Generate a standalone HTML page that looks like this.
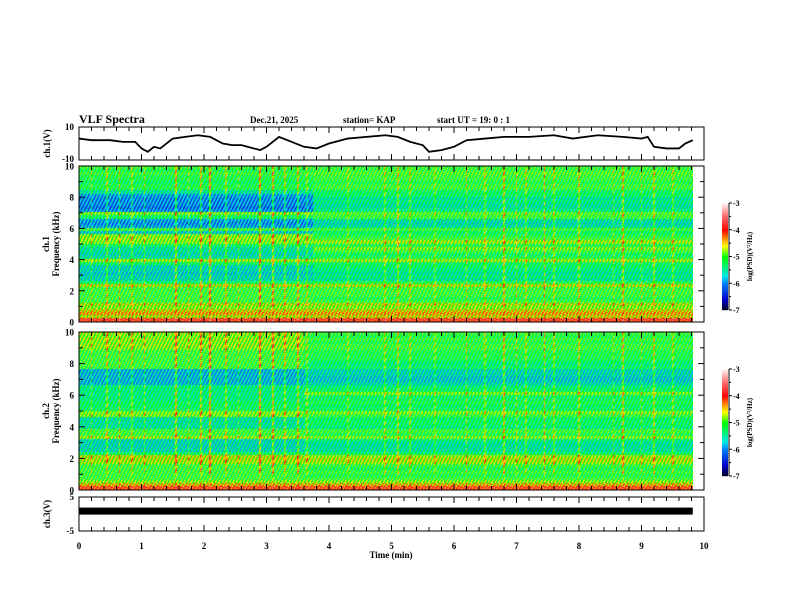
<!DOCTYPE html>
<html><head><meta charset="utf-8"><style>
html,body{margin:0;padding:0;background:#fff;}
#wrap{position:relative;width:792px;height:612px;overflow:hidden;}
canvas{position:absolute;}
svg{position:absolute;left:0;top:0;}
text{font-family:"Liberation Serif",serif;font-weight:bold;fill:#000;}
</style></head><body>
<div id="wrap">
<canvas id="spec1" width="614" height="156" style="left:79px;top:166px"></canvas>
<canvas id="spec2" width="614" height="158" style="left:79px;top:332px"></canvas>
<svg id="svg" width="792" height="612"></svg>
</div>
<script>
// ---- data ----
const ch1Times=[0,0.2,0.5,0.7,0.9,1.0,1.1,1.2,1.3,1.5,1.7,1.9,2.1,2.3,2.45,2.6,2.8,2.9,3.0,3.2,3.4,3.6,3.8,4.0,4.3,4.6,4.9,5.1,5.3,5.5,5.6,5.8,6.0,6.2,6.5,6.8,7.2,7.6,7.9,8.3,8.7,9.0,9.1,9.2,9.4,9.6,9.7,9.82];
const ch1Volts=[3,2,2,1,1,-3,-5,-2,-3,3,4,5,4,0,-1,-1,-3,-4,-2,4,1,-2,-3,0,3,4,5,4,1,-1,-5,-4,-2,2,3,4,4,5,3,5,4,3,4,-2,-3,-3,0,2];
const ch1Before=[-3.9,-4.7,-4.4,-4.6,-4.9,-4.7,-5.1,-5.1,-5.1,-5.1,-5.1,-4.7,-5.3,-5.6,-5.6,-5.7,-5.6,-5.6,-5.3,-4.8,-5.5,-5.6,-5.5,-5.5,-5.3,-4.9,-4.8,-4.9,-5.7,-5.1,-5.9,-6.0,-5.9,-5.3,-4.9,-6.0,-6.1,-6.0,-6.0,-6.0,-5.9,-5.5,-5.2,-5.2,-5.3,-5.2,-5.2,-5.1,-5.2,-5.1];
const ch1After=[-3.9,-4.6,-4.4,-4.6,-4.9,-4.7,-5.1,-5.2,-5.1,-5.1,-5.1,-4.7,-5.2,-5.5,-5.4,-5.5,-5.4,-5.3,-5.3,-4.8,-5.2,-5.3,-5.1,-4.9,-5.2,-4.8,-5.1,-5.2,-5.3,-5.1,-5.5,-5.6,-5.5,-5.1,-5.0,-5.4,-5.5,-5.5,-5.4,-5.5,-5.3,-5.3,-5.1,-5.1,-5.2,-5.1,-5.1,-5.0,-5.1,-5.1];
const ch1Break=3.75;
const ch2Before=[-4.0,-4.5,-4.9,-5.1,-5.1,-5.1,-5.1,-5.1,-4.8,-4.7,-4.7,-5.3,-5.6,-5.6,-5.6,-5.6,-4.8,-5.1,-5.1,-5.5,-5.5,-5.5,-5.5,-4.9,-4.9,-5.3,-5.3,-5.3,-5.4,-5.4,-5.4,-5.4,-5.4,-5.8,-5.8,-5.8,-5.8,-5.8,-5.1,-5.1,-5.1,-5.1,-5.1,-5.1,-4.9,-4.8,-4.9,-4.8,-4.9,-4.8];
const ch2After=[-4.0,-4.5,-4.9,-5.1,-5.2,-5.1,-5.2,-5.1,-4.8,-4.7,-4.8,-5.3,-5.5,-5.5,-5.5,-5.4,-4.9,-5.2,-5.1,-5.4,-5.3,-5.3,-5.3,-5.1,-4.9,-5.3,-5.3,-5.2,-5.3,-5.3,-4.9,-5.3,-5.4,-5.6,-5.7,-5.7,-5.6,-5.6,-5.3,-5.4,-5.3,-5.2,-5.2,-5.2,-5.1,-5.1,-5.2,-5.1,-5.2,-5.1];
const ch2Break=3.6;
const burstTimes=[0.2,0.45,0.65,0.85,1.05,1.55,1.75,1.95,2.1,2.35,2.55,2.9,3.1,3.3,3.5,3.65,4.3,4.9,5.1,5.3,5.7,6.2,6.5,6.8,7.0,7.15,7.45,7.6,8.0,8.55,8.7,9.0,9.2,9.5];
const burstStrength=[0.4,0.5,0.6,0.4,0.5,0.7,0.4,0.6,0.8,0.5,0.4,0.8,0.7,0.5,0.6,0.4,0.3,0.4,0.5,0.4,0.3,0.5,0.4,0.6,0.5,0.4,0.7,0.4,0.5,0.4,0.6,0.4,0.5,0.4];
const ch3Level=1.0;
const timeTicks=[0,1,2,3,4,5,6,7,8,9,10];
const freqTicks=[0,2,4,6,8,10];
const cbarTicks=[-3,-4,-5,-6,-7];
const dataEnd=9.82;

// ---- axes ----
const X0=79,X1=704,TMAX=10;
const xs=t=>X0+(X1-X0)*t/TMAX;
const NS='http://www.w3.org/2000/svg';
const svg=document.getElementById('svg');
function el(tag,attrs,parent){const e=document.createElementNS(NS,tag);for(const k in attrs)e.setAttribute(k,attrs[k]);(parent||svg).appendChild(e);return e;}
function txt(x,y,s,size,anchor,rot){const e=el('text',{x:x,y:y,'font-size':size,'text-anchor':anchor||'middle'});if(rot)e.setAttribute('transform','rotate(-90 '+x+' '+y+')');e.textContent=s;return e;}

const stops=[[0,[0,0,32]],[0.1,[0,0,200]],[0.25,[0,128,255]],[0.32,[0,230,230]],[0.5,[0,255,0]],[0.6,[255,255,0]],[0.68,[255,128,0]],[0.75,[255,0,0]],[0.9,[255,128,128]],[1,[255,245,245]]];
function cmapArr(v){let t=(v+7)/4;t=Math.max(0,Math.min(1,t));for(let i=1;i<stops.length;i++){if(t<=stops[i][0]){const a=stops[i-1],b=stops[i];const f=(t-a[0])/(b[0]-a[0]);return a[1].map((c,j)=>Math.round(c+(b[1][j]-c)*f));}}return [255,245,245];}
function cmap(v){return 'rgb('+cmapArr(v).join(',')+')';}

function burstAt(t){let s=0;for(let i=0;i<burstTimes.length;i++){if(Math.abs(t-burstTimes[i])<0.013)s+=burstStrength[i];}return s;}
const dither=[0,0.45,-0.3,0.2,-0.45,0.3,-0.15];
function drawSpec(id,before,after,brk){
  const c=document.getElementById(id),ctx=c.getContext('2d');const W=c.width,H=c.height,n=before.length;
  const img=ctx.createImageData(W,H);
  for(let px=0;px<W;px++){const t=(px+0.5)*TMAX/(X1-X0);const b=burstAt(t);const prof=t<brk?before:after;
    for(let py=0;py<H;py++){const r=Math.min(n-1,Math.floor((H-1-py)*n/H));
      const v=prof[r]+b*(r>=5?1:0.3)+dither[(px*3+py*5)%7];
      const col=cmapArr(v);const o=(py*W+px)*4;img.data[o]=col[0];img.data[o+1]=col[1];img.data[o+2]=col[2];img.data[o+3]=255;}}
  ctx.putImageData(img,0,0);
}
drawSpec('spec1',ch1Before,ch1After,ch1Break);
drawSpec('spec2',ch2Before,ch2After,ch2Break);

const panels=[{name:'ch1-voltage-panel',top:127,bot:160},{name:'ch1-spectrogram-panel',top:166,bot:322},{name:'ch2-spectrogram-panel',top:332,bot:490},{name:'ch3-voltage-panel',top:497,bot:531}];
panels.forEach(p=>{
  const r=el('rect',{x:X0,y:p.top,width:X1-X0,height:p.bot-p.top,fill:'none',stroke:'#000','stroke-width':1});
  
  
  for(let k=0;k<=50;k++){const t=k*0.2;const x=xs(t);const L=(k%5===0)?6:4;
    el('line',{x1:x,y1:p.top,x2:x,y2:p.top+L,stroke:'#000','stroke-width':1});
    el('line',{x1:x,y1:p.bot,x2:x,y2:p.bot-L,stroke:'#000','stroke-width':1});}
});
const v1y=v=>143.5-v*16.5/10;
const line=el('polyline',{points:ch1Times.map((t,i)=>xs(t)+','+v1y(ch1Volts[i])).join(' '),fill:'none',stroke:'#000','stroke-width':1.8});


txt(74,130,'10',9,'end');txt(74,162,'-10',9,'end');
txt(50,143.5,'ch.1(V)',9,'middle',true);
[[166,322,'ch.1'],[332,490,'ch.2']].forEach(([top,bot,lab])=>{
  const fy=f=>bot-(bot-top)*f/10;
  for(let f=0;f<=10;f++){const y=fy(f);const L=f%2===0?6:4;el('line',{x1:X0,y1:y,x2:X0+L,y2:y,stroke:'#000'});el('line',{x1:X1,y1:y,x2:X1-L,y2:y,stroke:'#000'});}
  freqTicks.forEach(f=>{const t=txt(74,fy(f)+3.5,String(f),9,'end');});
  txt(49,(top+bot)/2,lab,9,'middle',true);
  txt(59,(top+bot)/2,'Frequency (kHz)',9,'middle',true);
  const cy0=top+37,cy1=top+144,cx=722;
  const g=el('g',{});
  
  
  for(let i=0;i<cy1-cy0;i++){el('rect',{x:cx,y:cy0+i,width:6,height:1.2,fill:cmap(-3-4*i/(cy1-cy0))},g);}
  el('line',{x1:cx+7,y1:cy0,x2:cx+7,y2:cy1,stroke:'#000'},g);
  cbarTicks.forEach(v=>{const y=cy0+(cy1-cy0)*(-3-v)/4;el('line',{x1:cx+7,y1:y,x2:cx+10,y2:y,stroke:'#000'},g);txt(cx+11,y+3,String(v),8,'start');});
  for(let v=-3.5;v>-7;v-=1){const y=cy0+(cy1-cy0)*(-3-v)/4;el('line',{x1:cx+7,y1:y,x2:cx+9,y2:y,stroke:'#000'},g);}
  txt(752,(cy0+cy1)/2,'log(PSD)(V²/Hz)',7,'middle',true);
});
const v3y=v=>514-v*17/5;
const band=el('rect',{x:X0,y:v3y(ch3Level)-3,width:xs(dataEnd)-X0,height:7,fill:'#000'});


txt(74,500,'5',9,'end');txt(74,534,'-5',9,'end');
txt(50,514,'ch.3(V)',9,'middle',true);
timeTicks.forEach(t=>{const e=txt(xs(t),549,String(t),9,'middle');});
const xt=txt(391,558,'Time  (min)',9,'middle');
const h1=txt(79,123,'VLF Spectra',12,'start');
txt(250,123,'Dec.21, 2025',9,'start');
txt(343,123,'station= KAP',9,'start');
txt(437,123,'start  UT =   19: 0  : 1',9,'start');
</script>
</body></html>
